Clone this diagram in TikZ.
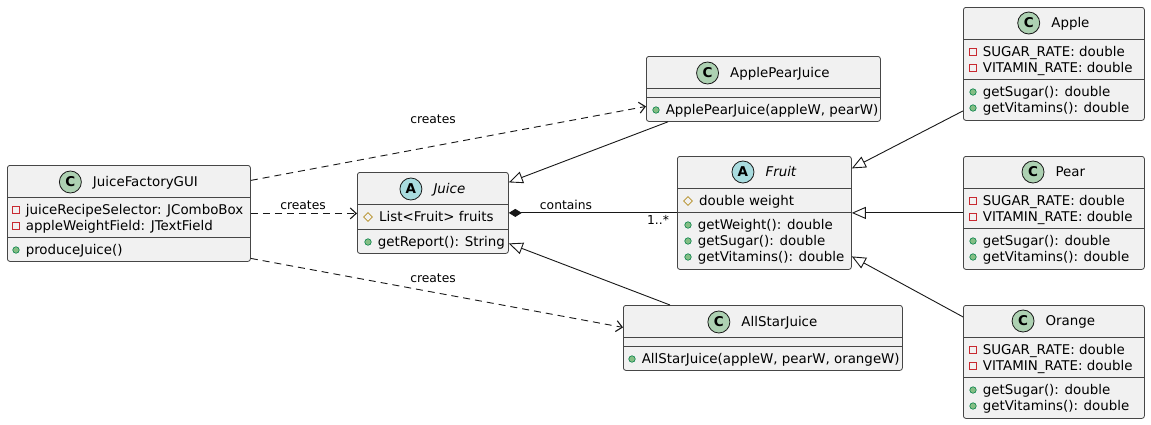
\documentclass[tikz,border=0pt]{standalone}
\usepackage{fontspec}
\setmainfont{DejaVu Sans}
\usetikzlibrary{arrows.meta,positioning,shapes.geometric}

\definecolor{boxfill}{HTML}{F1F1F1}
\definecolor{umlline}{HTML}{181818}
\definecolor{classgreen}{HTML}{ADD1B2}
\definecolor{abstractblue}{HTML}{A9DCDF}
\definecolor{privred}{HTML}{C82930}
\definecolor{protgold}{HTML}{B38D22}
\definecolor{pubfill}{HTML}{84BE84}
\definecolor{pubedge}{HTML}{038048}

\newcommand{\membersize}{\fontsize{13.4}{16}\selectfont}
\newcommand{\namesize}{\fontsize{13.4}{16}\selectfont}
\newcommand{\labelsize}{\fontsize{12.3}{14}\selectfont}

% visibility marker + member text
\newcommand{\member}[4]{%
  \node[#2mark] (#1mark) at (#3) {};
  \node[member, right=6pt of #1mark] (#1) {#4};}

\begin{document}
\begin{tikzpicture}[x=1pt, y=-1pt,
    classbox/.style={draw=umlline!80, fill=boxfill, line width=0.8pt, rounded corners=2.5pt,
      anchor=north west, inner sep=0pt},
    sepline/.style={draw=umlline!80, line width=0.8pt},
    icon/.style={circle, draw=umlline, line width=0.8pt, minimum size=22pt, inner sep=0pt,
      font=\fontsize{13.5}{13.5}\selectfont\bfseries},
    classname/.style={inner sep=0pt, font=\namesize, text height=9.5pt, text depth=0pt},
    member/.style={inner sep=0pt, font=\membersize, text height=9.6pt, text depth=0pt},
    privmark/.style={rectangle, draw=privred, line width=0.8pt, minimum size=6.5pt, inner sep=0pt},
    protmark/.style={diamond, draw=protgold, line width=0.8pt, minimum size=9pt, inner sep=0pt},
    pubmark/.style={circle, draw=pubedge, fill=pubfill, line width=0.6pt, minimum size=6.5pt, inner sep=0pt},
    lbl/.style={inner sep=0pt, font=\labelsize, text height=7pt, text depth=0pt},
    dep/.style={draw=umlline, line width=0.9pt, dash pattern=on 7pt off 5pt,
      -{Straight Barb[length=6pt, width=11pt, line width=1.1pt]}},
    gen/.style={draw=umlline, line width=0.9pt, -{Triangle[open, length=14pt, width=12pt, fill=white]}},
    comp/.style={draw=umlline, line width=0.9pt, {Diamond[length=13pt, width=8pt]}-}
  ]
  \fill[white] (0,0) rectangle (1151,424);
  \useasboundingbox (0,0) rectangle (1151,424);

  % JuiceFactoryGUI
  \node[classbox, minimum width=243pt, minimum height=96pt] (gui) at (7,165) {};
  \draw[sepline] (7,197) -- (250,197);
  \draw[sepline] (7,237) -- (250,237);
  \node[classname] (guiname) at ([xshift=16.5pt, yshift=-17pt]gui.north) {JuiceFactoryGUI};
  \node[icon, fill=classgreen, left=11pt of guiname] (guiicon) {C};
  \member{guia1}{priv}{16,210}{juiceRecipeSelector: JComboBox}
  \member{guia2}{priv}{16,226}{appleWeightField: JTextField}
  \member{guim1}{pub}{16,250}{produceJuice()}

  % Juice
  \node[classbox, minimum width=151pt, minimum height=81pt] (juice) at (357,172) {};
  \draw[sepline] (357,204) -- (508,204);
  \draw[sepline] (357,229) -- (508,229);
  \node[classname, font=\namesize\itshape] (juicename) at ([xshift=16.5pt, yshift=-17pt]juice.north) {Juice};
  \node[icon, fill=abstractblue, left=11pt of juicename] (juiceicon) {A};
  \member{juicea1}{prot}{368,217}{List<Fruit> fruits}
  \member{juicem1}{pub}{368,242}{getReport(): String}

  % ApplePearJuice
  \node[classbox, minimum width=234pt, minimum height=65pt] (apj) at (646,56) {};
  \draw[sepline] (646,88) -- (880,88);
  \draw[sepline] (646,97) -- (880,97);
  \node[classname] (apjname) at ([xshift=16.5pt, yshift=-17pt]apj.north) {ApplePearJuice};
  \node[icon, fill=classgreen, left=11pt of apjname] (apjicon) {C};
  \member{apjm1}{pub}{656,110}{ApplePearJuice(appleW, pearW)}

  % AllStarJuice
  \node[classbox, minimum width=279pt, minimum height=65pt] (allstar) at (623,305) {};
  \draw[sepline] (623,337) -- (902,337);
  \draw[sepline] (623,346) -- (902,346);
  \node[classname] (allstarname) at ([xshift=16.5pt, yshift=-17pt]allstar.north) {AllStarJuice};
  \node[icon, fill=classgreen, left=11pt of allstarname] (allstaricon) {C};
  \member{allstarm1}{pub}{632,359}{AllStarJuice(appleW, pearW, orangeW)}

  % Fruit
  \node[classbox, minimum width=174pt, minimum height=113pt] (fruit) at (677,156) {};
  \draw[sepline] (677,188) -- (851,188);
  \draw[sepline] (677,212) -- (851,212);
  \node[classname, font=\namesize\itshape] (fruitname) at ([xshift=16.5pt, yshift=-16pt]fruit.north) {Fruit};
  \node[icon, fill=abstractblue, left=11pt of fruitname] (fruiticon) {A};
  \member{fruita1}{prot}{688,201}{double weight}
  \member{fruitm1}{pub}{688,225}{getWeight(): double}
  \member{fruitm2}{pub}{688,241}{getSugar(): double}
  \member{fruitm3}{pub}{688,257}{getVitamins(): double}

  % Apple
  \node[classbox, minimum width=181pt, minimum height=113pt] (apple) at (963,7) {};
  \draw[sepline] (963,39) -- (1144,39);
  \draw[sepline] (963,79) -- (1144,79);
  \node[classname] (applename) at ([xshift=16.5pt, yshift=-16pt]apple.north) {Apple};
  \node[icon, fill=classgreen, left=11pt of applename] (appleicon) {C};
  \member{applea1}{priv}{973,52}{SUGAR\_RATE: double}
  \member{applea2}{priv}{973,68}{VITAMIN\_RATE: double}
  \member{applem1}{pub}{973,92}{getSugar(): double}
  \member{applem2}{pub}{973,108}{getVitamins(): double}

  % Pear
  \node[classbox, minimum width=181pt, minimum height=113pt] (pear) at (963,156) {};
  \draw[sepline] (963,188) -- (1144,188);
  \draw[sepline] (963,228) -- (1144,228);
  \node[classname] (pearname) at ([xshift=16.5pt, yshift=-16pt]pear.north) {Pear};
  \node[icon, fill=classgreen, left=11pt of pearname] (pearicon) {C};
  \member{peara1}{priv}{973,201}{SUGAR\_RATE: double}
  \member{peara2}{priv}{973,217}{VITAMIN\_RATE: double}
  \member{pearm1}{pub}{973,241}{getSugar(): double}
  \member{pearm2}{pub}{973,257}{getVitamins(): double}

  % Orange
  \node[classbox, minimum width=181pt, minimum height=113pt] (orange) at (963,305) {};
  \draw[sepline] (963,337) -- (1144,337);
  \draw[sepline] (963,377) -- (1144,377);
  \node[classname] (orangename) at ([xshift=16.5pt, yshift=-16pt]orange.north) {Orange};
  \node[icon, fill=classgreen, left=11pt of orangename] (orangeicon) {C};
  \member{orangea1}{priv}{973,350}{SUGAR\_RATE: double}
  \member{orangea2}{priv}{973,366}{VITAMIN\_RATE: double}
  \member{orangem1}{pub}{973,390}{getSugar(): double}
  \member{orangem2}{pub}{973,406}{getVitamins(): double}

  % creates (dependencies)
  \draw[dep] ([yshift=33pt]gui.east) -- ([yshift=-17.5pt]apj.west);
  \draw[dep] (gui.east) -- (gui.east -| juice.west);
  \draw[dep] ([yshift=-45pt]gui.east) -- ([yshift=10.5pt]allstar.west);
  \node[lbl] (creates1) at (433,120) {creates};
  \node[lbl] (creates2) at (303,206) {creates};
  \node[lbl] (creates3) at (433,279) {creates};

  % generalisations
  \draw[gen] ([xshift=22pt]apj.south west) -- ([yshift=30.5pt]juice.east);
  \draw[gen] ([xshift=47pt]allstar.north west) -- ([yshift=-30.5pt]juice.east);
  \draw[gen] ([yshift=-47pt]apple.west) -- ([yshift=44.5pt]fruit.east);
  \draw[gen] (pear.west) -- (pear.west -| fruit.east);
  \draw[gen] ([yshift=45pt]orange.west) -- ([yshift=-43.5pt]fruit.east);

  % composition
  \draw[comp] (juice.east) -- (juice.east -| fruit.west);
  \node[lbl] (contains) at (566,206) {contains};
  \node[lbl] (mult) at (658,221) {1..*};
\end{tikzpicture}
\end{document}
